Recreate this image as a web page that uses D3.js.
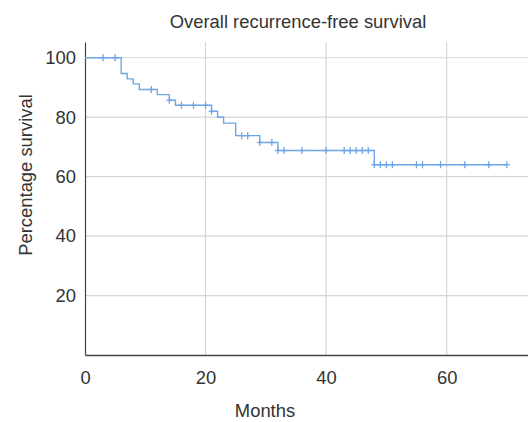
<!DOCTYPE html>
<html>
<head>
<meta charset="utf-8">
<script src="https://cdn.jsdelivr.net/npm/d3@7"></script>
<style>
  html, body { margin: 0; padding: 0; background: #fff; }
  svg text { font-family: "Liberation Sans", Arial, Helvetica, sans-serif; fill: #333; }
</style>
</head>
<body>
<svg id="chart" width="528" height="422"></svg>
<script>
// Kaplan–Meier estimate: times (months) where the curve drops, and the level after each drop
const stepTimes = [6, 7, 8, 9, 12, 14, 15, 21, 22, 23, 25, 29, 32, 48];
const survivalLevels = [94.7, 92.9, 91.2, 89.3, 87.6, 85.7, 84.0, 82.0, 80.0, 78.0, 73.8, 71.5, 68.8, 64.0];
// Censored observations (months)
const censorTimes = [3, 5, 11, 14, 16, 18, 20, 21, 26, 27, 29, 31, 32, 33, 36, 40, 43, 44, 45, 46, 47,
                     48, 49, 50, 51, 55, 56, 59, 63, 67, 70];
const lastFollowUp = 70;
const xTicks = [0, 20, 40, 60];
const yTicks = [20, 40, 60, 80, 100];

const FONT = 18.4;
const svg = d3.select("#chart");
const x = d3.scaleLinear().domain([0, 73.5]).range([85, 528]);
const y = d3.scaleLinear().domain([0, 105.3]).range([355, 42]);

// survival at time t (value after any drop at t)
function survivalAt(t) {
  let s = 100;
  stepTimes.forEach((st, i) => { if (st <= t) s = survivalLevels[i]; });
  return s;
}

// grid
const grid = svg.append("g");
grid.selectAll("line.h").data(yTicks).join("line")
  .attr("x1", x(0)).attr("x2", x(73.5))
  .attr("y1", d => y(d)).attr("y2", d => y(d))
  .attr("stroke", "#d6d6d6").attr("stroke-width", 1.2);
grid.selectAll("line.v").data(xTicks.filter(d => d > 0)).join("line")
  .attr("x1", d => x(d)).attr("x2", d => x(d))
  .attr("y1", y(105.3)).attr("y2", y(0))
  .attr("stroke", "#d6d6d6").attr("stroke-width", 1.2);

// axes
const xAxis = svg.append("g").attr("transform", `translate(0,${y(0)})`)
  .call(d3.axisBottom(x).tickValues(xTicks).tickSize(0).tickPadding(16));
xAxis.select(".domain").attr("stroke", "#444").attr("stroke-width", 1.6);
xAxis.selectAll("text").attr("font-size", FONT).attr("fill", "#333");

const yAxis = svg.append("g").attr("transform", `translate(${x(0)},0)`)
  .call(d3.axisLeft(y).tickValues(yTicks).tickSize(0).tickPadding(9));
yAxis.select(".domain").attr("stroke", "#444").attr("stroke-width", 1.2);
yAxis.selectAll("text").attr("font-size", FONT).attr("fill", "#333");

// survival curve
const pts = [{t: 0, s: 100}]
  .concat(stepTimes.map((t, i) => ({t, s: survivalLevels[i]})))
  .concat([{t: lastFollowUp, s: survivalAt(lastFollowUp)}]);
const line = d3.line().x(d => x(d.t)).y(d => y(d.s)).curve(d3.curveStepAfter);
svg.append("path").datum(pts)
  .attr("d", line)
  .attr("fill", "none")
  .attr("stroke", "#6ea6e8")
  .attr("stroke-width", 1.4);

// censor marks
const cm = svg.append("g").attr("stroke", "#6ea6e8").attr("stroke-width", 1.3);
censorTimes.forEach(t => {
  const cx = x(t), cy = y(survivalAt(t));
  cm.append("line").attr("x1", cx).attr("x2", cx).attr("y1", cy - 3.5).attr("y2", cy + 3.5);
  cm.append("line").attr("x1", cx - 3).attr("x2", cx + 3).attr("y1", cy).attr("y2", cy);
});

// titles
svg.append("text").attr("x", 298).attr("y", 28).attr("text-anchor", "middle")
  .attr("font-size", FONT).text("Overall recurrence-free survival");
svg.append("text").attr("x", 265).attr("y", 417).attr("text-anchor", "middle")
  .attr("font-size", FONT).text("Months");
svg.append("text").attr("transform", "translate(32,175) rotate(-90)")
  .attr("text-anchor", "middle").attr("font-size", FONT).text("Percentage survival");
</script>
</body>
</html>
